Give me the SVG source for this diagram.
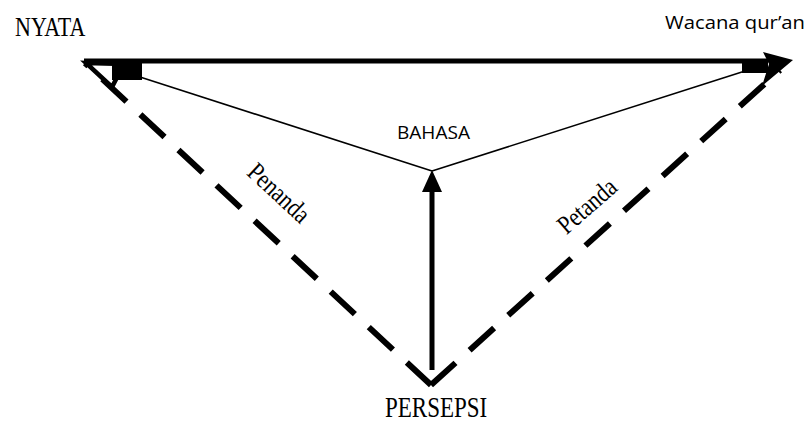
<svg xmlns="http://www.w3.org/2000/svg" width="808" height="423" viewBox="0 0 808 423">
<style>
.serif{font-family:"Liberation Serif","Times New Roman",serif;fill:#000}
.sans{font-family:"Open Sans","Liberation Sans",Arial,sans-serif;fill:#000}
.dash{fill:none;stroke:#000;stroke-width:6;stroke-dasharray:33 19}
.thin{fill:none;stroke:#000;stroke-width:1.6}
</style>
<rect width="808" height="423" fill="#fff"/>
<g id="connectors">
  <path class="dash" d="M431,385 L85,63"/>
  <path class="dash" d="M431,385 L780,70"/>
  <path class="thin" d="M432,171 L140,77"/>
  <path class="thin" d="M432,171 L745,71"/>
  <line x1="84" y1="61" x2="768" y2="61" stroke="#000" stroke-width="5"/>
  <polygon points="86,63 124,64 112,87" fill="#fff" stroke="#000" stroke-width="4.5" stroke-linejoin="miter"/>
  <rect x="112" y="63" width="30" height="17" fill="#000"/>
  <rect x="742" y="63" width="26" height="10" fill="#000"/>
  <polygon points="763,52 793,60 762,86 769,64" fill="#000"/>
  <line x1="432" y1="188" x2="432" y2="370" stroke="#000" stroke-width="5"/>
  <polygon points="432,170 422,192 442,192" fill="#000"/>
</g>
<g id="node-nyata"><text class="serif" font-size="22" transform="translate(15,36) scale(1,1.23)">NYATA</text></g>
<g id="node-wacana"><text class="sans" font-size="19" x="665" y="29" textLength="140" lengthAdjust="spacingAndGlyphs">Wacana qur’an</text></g>
<g id="node-bahasa"><text class="sans" font-size="18" x="397" y="139" textLength="73" lengthAdjust="spacingAndGlyphs">BAHASA</text></g>
<g id="node-persepsi"><text class="serif" font-size="23" transform="translate(385,417) scale(1,1.25)">PERSEPSI</text></g>
<g id="label-penanda"><text class="serif" font-size="22" text-anchor="middle" transform="translate(278,194) rotate(43) scale(1,1.2)" y="6">Penanda</text></g>
<g id="label-petanda"><text class="serif" font-size="22" text-anchor="middle" transform="translate(588,207) rotate(-41) scale(1,1.2)" y="6">Petanda</text></g>
</svg>
